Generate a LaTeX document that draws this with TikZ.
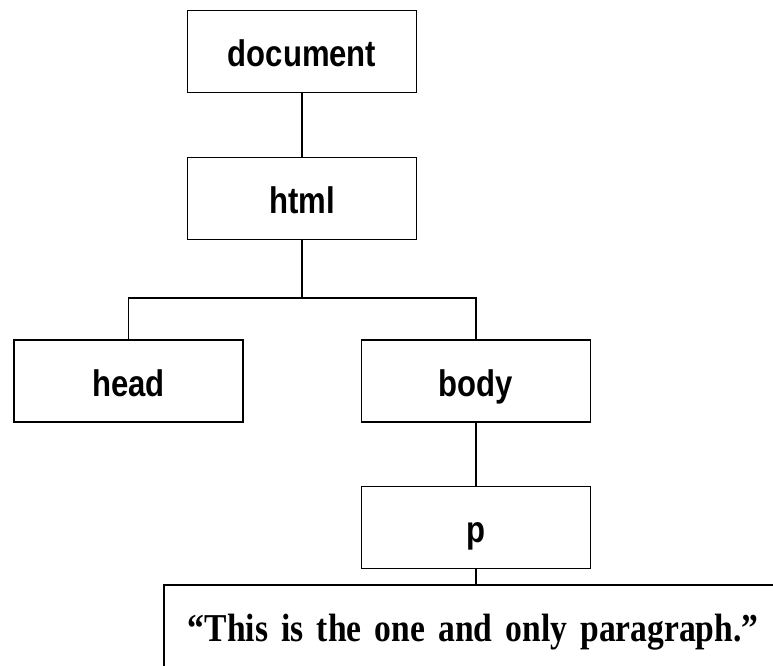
\documentclass[tikz,border=0pt]{standalone}
\usepackage{fontspec}
\usepackage{tikz}
\usetikzlibrary{positioning}
\newfontfamily\boxfont[FakeStretch=0.84]{Liberation Sans}
\newfontfamily\parafont[FakeStretch=0.85]{Liberation Serif}

\begin{document}
\begin{tikzpicture}[
      x=1pt, y=-1pt,
      element/.style={
         rectangle,
         draw=black,
         line width=1.8pt,
         fill=white,
         minimum width=229pt,
         minimum height=82pt,
         inner sep=0pt,
         font=\boxfont\bfseries\fontsize{37}{42}\selectfont,
         text height=30pt,
         text depth=0pt
      },
      textbox/.style={
         rectangle,
         draw=black,
         line width=1.8pt,
         anchor=north west,
         align=left,
         text width=750pt,
         inner xsep=24pt,
         inner ysep=0pt,
         font=\parafont\bfseries\fontsize{39.5}{45}\selectfont,
         text height=57pt,
         text depth=60pt
      },
      link/.style={line width=1.8pt}
    ]
    \useasboundingbox (0,0) rectangle (773,665);
    \clip (0,0) rectangle (773,665);
    \fill[white] (0,0) rectangle (773,665);
    % tree nodes
    \node (document) [element] at (302,51.5) {document};
    \node (html)     [element] at (302,198.5) {html};
    \node (head)     [element] at (128.5,381) {head};
    \node (body)     [element] at (476,381) {body};
    \node (p)        [element] at (476,527.5) {p};
    \node (para)     [textbox] at (163,584) {“This is the one and only paragraph.”};
    \coordinate (fork) at (302,298);
    % connectors
    \draw[link] (document) -- (html);
    \draw[link] (html) -- (fork);
    \draw[link] (head.north) |- (fork) -| (body.north);
    \draw[link] (body) -- (p);
    \draw[link] (p.south) -- (p.south |- para.north);
\end{tikzpicture}
\end{document}
